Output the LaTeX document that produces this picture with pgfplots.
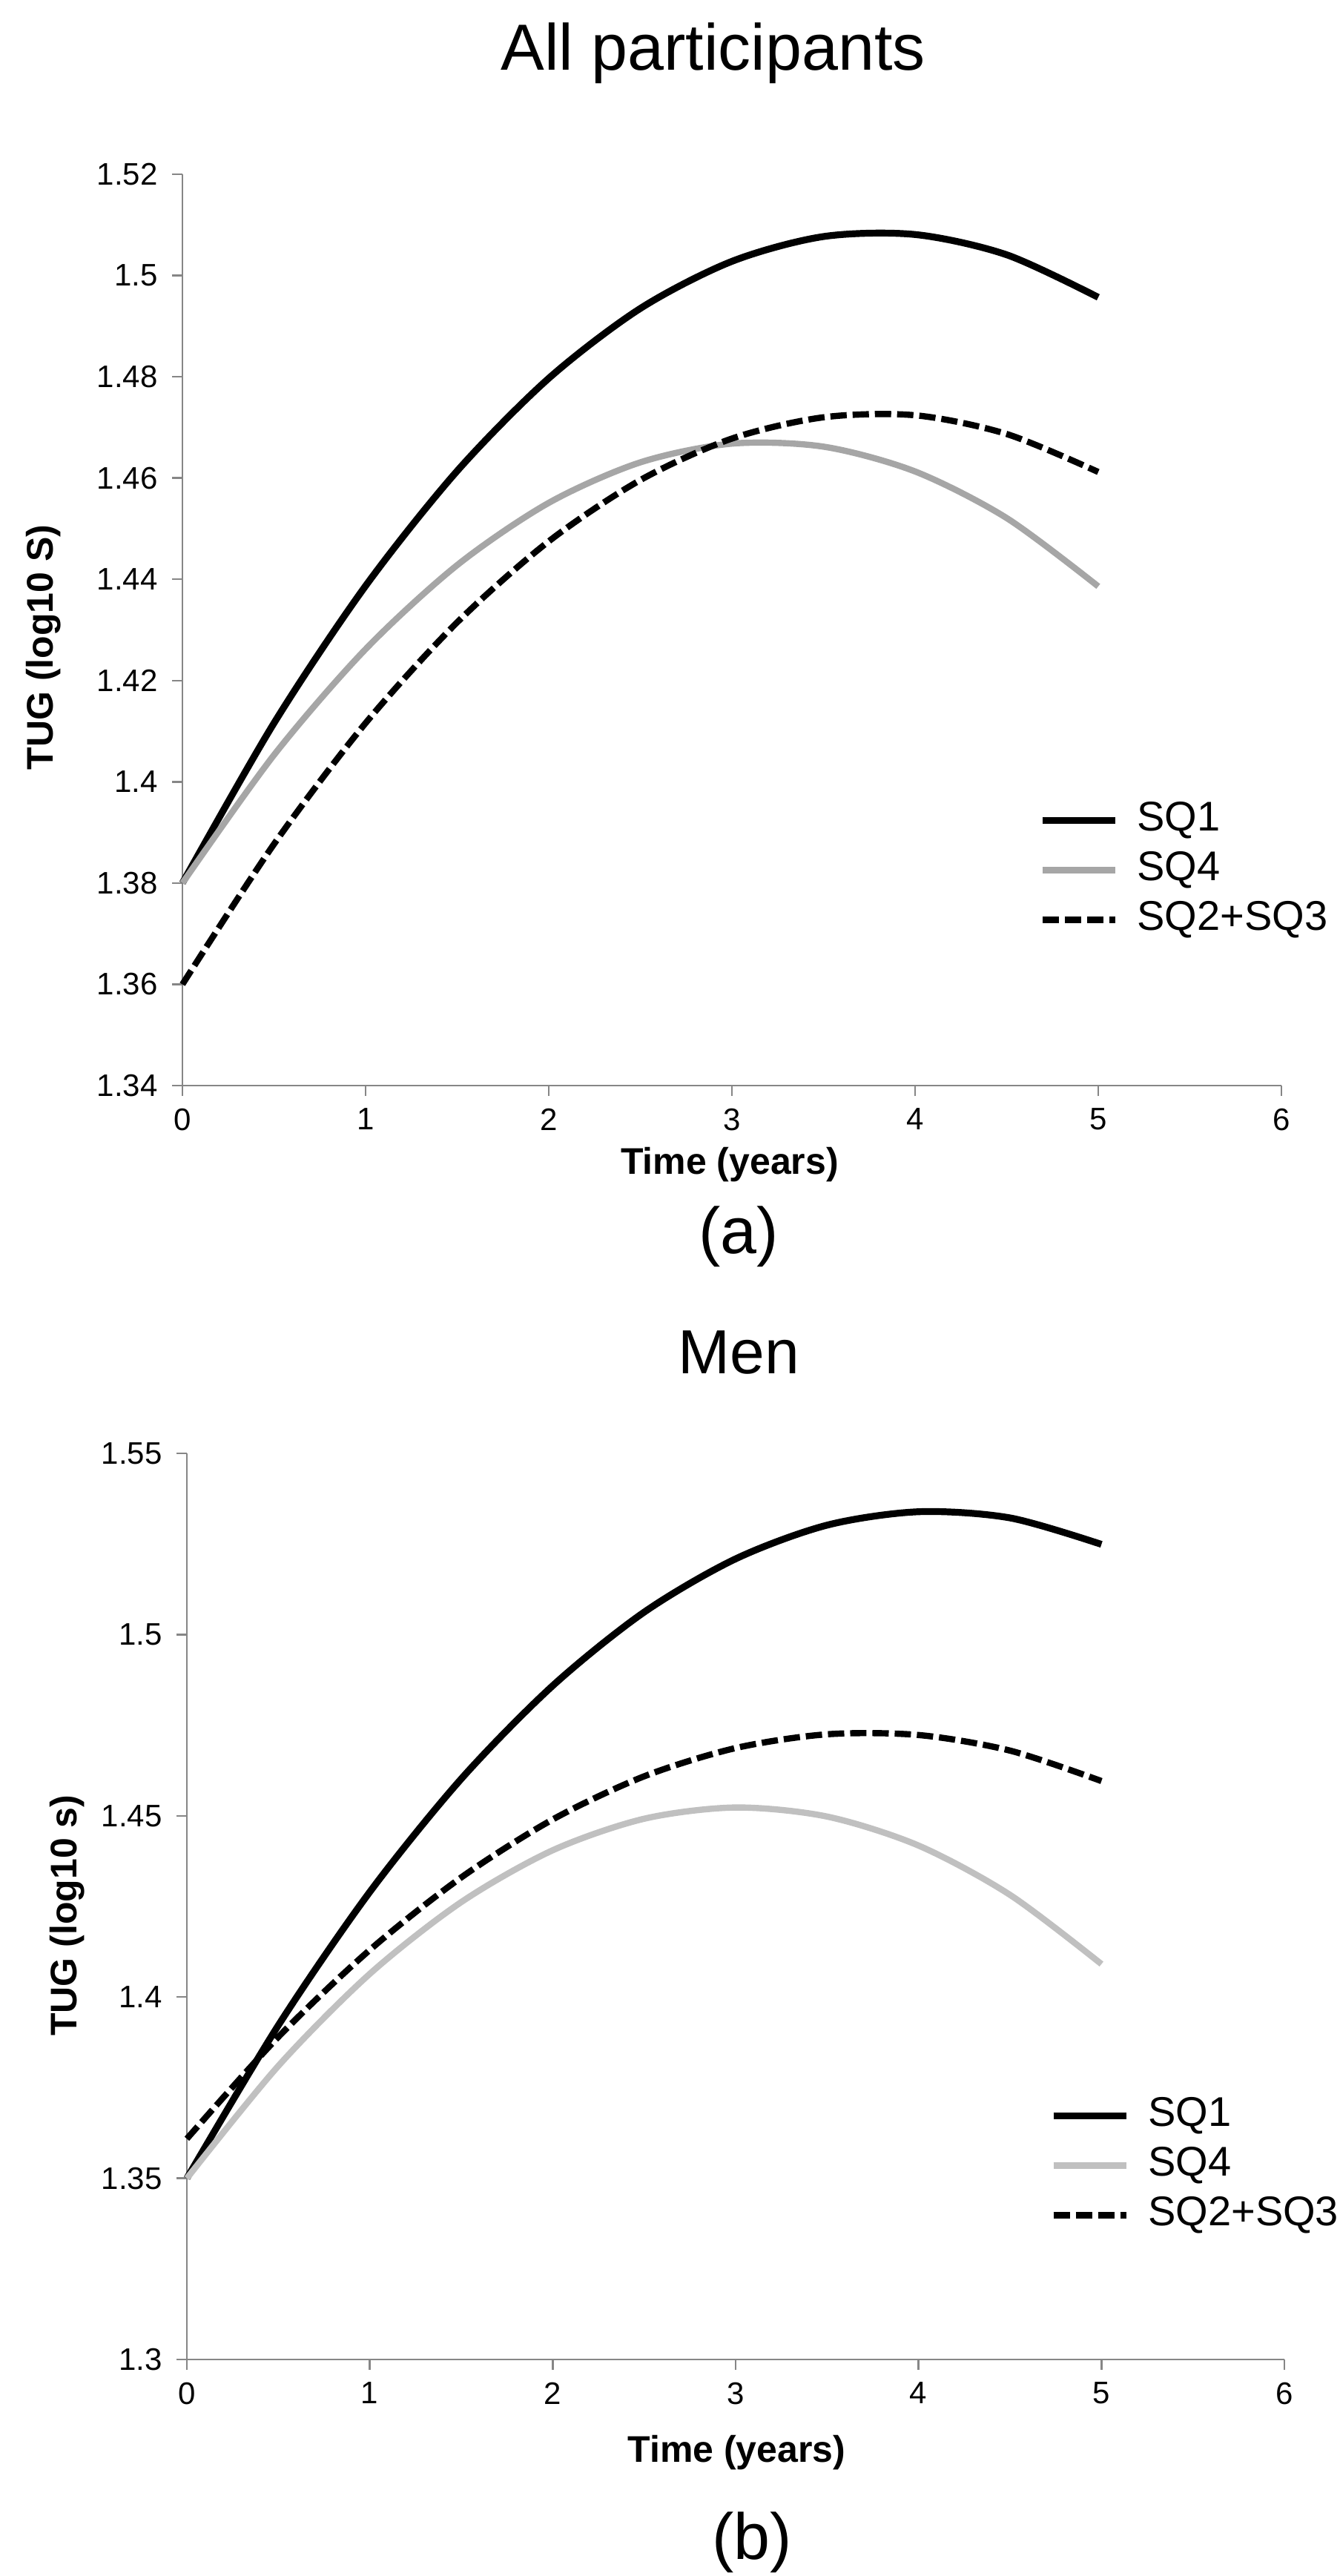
\documentclass[border=0pt]{standalone}
\usepackage{fontspec}
\setmainfont{Liberation Sans}
\usepackage{pgfplots}
\pgfplotsset{compat=1.18}

\definecolor{axgray}{HTML}{868686}
\definecolor{grayA}{HTML}{A6A6A6}
\definecolor{grayB}{HTML}{C0C0C0}

\pgfplotsset{
  every axis title shift=0pt,
  tug/.style={
    scale only axis,
    axis lines*=left,
    axis line style={draw=axgray, line width=0.6pt},
    every tick/.style={draw=axgray, line width=0.6pt},
    tick align=outside,
    major tick length=3.5pt,
    xmin=0, xmax=6, xtick={0,1,2,3,4,5,6},
    tick label style={font=\fontsize{10.5}{12}\selectfont},
    /pgf/number format/assume math mode=true,
    yticklabel style={anchor=east, inner sep=0pt, xshift=-4.7pt},
    xticklabel style={anchor=north, inner sep=0pt, yshift=-4pt},
    label style={font=\bfseries\fontsize{12.5}{15}\selectfont},
    title style={font=\fontsize{22}{26}\selectfont, anchor=base},
    legend image code/.code={\draw[#1] (0pt,0pt) -- (24.5pt,0pt);},
    legend style={draw=none, fill=none, inner sep=0pt, anchor=north west,
      font=\fontsize{14}{16}\selectfont, row sep=3.7pt, column sep=6.25pt,
      nodes={inner sep=0pt, text height=10pt, text depth=3pt}},
    legend cell align=left,
    clip=false,
  },
  sqone/.style={black, line width=2.3pt, smooth},
  sqfour/.style={line width=2.1pt, smooth},
  sqmid/.style={black, line width=2.1pt, smooth, dash pattern=on 5.5pt off 2pt},
}

\begin{document}
\begin{tikzpicture}
\useasboundingbox (0,0) rectangle (451.75pt,-868.5pt);

% (a) all participants
\begin{axis}[tug,
  at={(61.5pt,-366pt)}, anchor=south west,
  width=370.5pt, height=307.25pt,
  ymin=1.34, ymax=1.52,
  ytick={1.34,1.36,1.38,1.40,1.42,1.44,1.46,1.48,1.50,1.52},
  title={All participants},
  title style={at={(axis description cs:0.483,1.114)}},
  xlabel={Time (years)},
  xlabel style={at={(axis description cs:0.498,-0.0968)}, anchor=base},
  ylabel={TUG (log10 S)},
  ylabel style={at={(axis description cs:-0.118,0.481)}, anchor=base},
  legend style={at={(axis description cs:0.779,0.3125)}},
]
\addplot[sqone] coordinates {
  (0,1.3800) (0.5,1.4116) (1,1.4387) (1.5,1.4614) (2,1.4797) (2.5,1.4935)
  (3,1.5028) (3.5,1.5077) (4,1.5081) (4.5,1.5041) (5,1.4957)
};
\addlegendentry{SQ1}
\addplot[sqfour, grayA] coordinates {
  (0,1.3800) (0.5,1.4053) (1,1.4262) (1.5,1.4428) (2,1.4551) (2.5,1.4631)
  (3,1.4668) (3.5,1.4662) (4,1.4613) (4.5,1.4521) (5,1.4386)
};
\addlegendentry{SQ4}
\addplot[sqmid] coordinates {
  (0,1.3600) (0.5,1.3877) (1,1.4116) (1.5,1.4315) (2,1.4475) (2.5,1.4596)
  (3,1.4678) (3.5,1.4720) (4,1.4724) (4.5,1.4687) (5,1.4612)
};
\addlegendentry{SQ2+SQ3}
\end{axis}

% (b) men
\begin{axis}[tug,
  at={(63pt,-795.5pt)}, anchor=south west,
  width=370pt, height=305.5pt,
  ymin=1.3, ymax=1.55,
  ytick={1.30,1.35,1.40,1.45,1.50,1.55},
  title={Men},
  title style={at={(axis description cs:0.503,1.0876)}, font=\fontsize{21}{25}\selectfont},
  xlabel={Time (years)},
  xlabel style={at={(axis description cs:0.501,-0.1129)}, anchor=base},
  ylabel={TUG (log10 s)},
  ylabel style={at={(axis description cs:-0.1006,0.490)}, anchor=base},
  legend style={at={(axis description cs:0.786,0.2905)}},
]
\addplot[sqone] coordinates {
  (0,1.3500) (0.5,1.3922) (1,1.4290) (1.5,1.4602) (2,1.4859) (2.5,1.5062)
  (3,1.5209) (3.5,1.5302) (4,1.5339) (4.5,1.5322) (5,1.5249)
};
\addlegendentry{SQ1}
\addplot[sqfour, grayB] coordinates {
  (0,1.3500) (0.5,1.3810) (1,1.4064) (1.5,1.4262) (2,1.4405) (2.5,1.4492)
  (3,1.4523) (3.5,1.4498) (4,1.4418) (4.5,1.4282) (5,1.4091)
};
\addlegendentry{SQ4}
\addplot[sqmid] coordinates {
  (0,1.3609) (0.5,1.3890) (1,1.4130) (1.5,1.4330) (2,1.4490) (2.5,1.4609)
  (3,1.4687) (3.5,1.4725) (4,1.4723) (4.5,1.4680) (5,1.4596)
};
\addlegendentry{SQ2+SQ3}
\end{axis}

\node[font=\fontsize{22}{26}\selectfont, anchor=base] at (249pt,-422.5pt) {(a)};
\node[font=\fontsize{22}{26}\selectfont, anchor=base] at (253.5pt,-862.75pt) {(b)};
\end{tikzpicture}
\end{document}
